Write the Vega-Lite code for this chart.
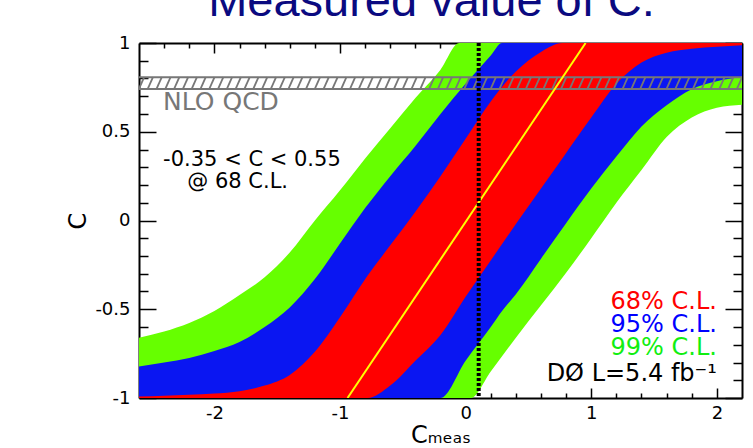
{
  "$schema": "https://vega.github.io/schema/vega-lite/v6.json",
  "width": 603,
  "height": 355,
  "autosize": {"type": "none"},
  "padding": {"left": 139, "top": 43, "right": 11, "bottom": 50},
  "background": "white",
  "title": {"text": "Measured value of C:", "font": "Liberation Sans", "fontSize": 47, "fontWeight": "normal", "color": "#0a0a80", "anchor": "middle", "frame": "group", "baseline": "alphabetic", "offset": -29, "dx": -9},
  "config": {
    "view": {"stroke": null},
    "axis": {"domain": false, "grid": false, "tickColor": "black", "tickWidth": 1.5, "labelFont": "DejaVu Sans", "labelFontSize": 18, "labelColor": "black", "titleFont": "DejaVu Sans", "titleFontWeight": "normal", "titleColor": "black", "labelOverlap": false, "labelFlush": false, "zindex": 1}
  },
  "datasets": {
    "green": [
      {"x": -2.6, "lo": -1, "hi": -0.66}, {"x": -2.4, "lo": -1, "hi": -0.625}, {"x": -2.2, "lo": -1, "hi": -0.577}, {"x": -2.0, "lo": -1, "hi": -0.51}, {"x": -1.8, "lo": -1, "hi": -0.42}, {"x": -1.6, "lo": -1, "hi": -0.32}, {"x": -1.4, "lo": -1, "hi": -0.18}, {"x": -1.2, "lo": -1, "hi": 0.0}, {"x": -1.0, "lo": -1, "hi": 0.17}, {"x": -0.8, "lo": -1, "hi": 0.35}, {"x": -0.6, "lo": -1, "hi": 0.52}, {"x": -0.4, "lo": -1, "hi": 0.69}, {"x": -0.2, "lo": -1, "hi": 0.85}, {"x": -0.05, "lo": -1, "hi": 1}, {"x": 0.04, "lo": -1, "hi": 1}, {"x": 0.2, "lo": -0.85, "hi": 1}, {"x": 0.4, "lo": -0.66, "hi": 1}, {"x": 0.6, "lo": -0.478, "hi": 1}, {"x": 0.8, "lo": -0.295, "hi": 1}, {"x": 1.0, "lo": -0.1, "hi": 1}, {"x": 1.2, "lo": 0.1, "hi": 1}, {"x": 1.4, "lo": 0.284, "hi": 1}, {"x": 1.6, "lo": 0.47, "hi": 1}, {"x": 1.8, "lo": 0.58, "hi": 1}, {"x": 2.0, "lo": 0.635, "hi": 1}, {"x": 2.2, "lo": 0.652, "hi": 1}
    ],
    "blue": [
      {"x": -2.6, "lo": -1, "hi": -0.823}, {"x": -2.4, "lo": -1, "hi": -0.8}, {"x": -2.2, "lo": -1, "hi": -0.775}, {"x": -2.0, "lo": -1, "hi": -0.735}, {"x": -1.8, "lo": -1, "hi": -0.685}, {"x": -1.6, "lo": -1, "hi": -0.6}, {"x": -1.4, "lo": -1, "hi": -0.49}, {"x": -1.2, "lo": -1, "hi": -0.33}, {"x": -1.0, "lo": -1, "hi": -0.13}, {"x": -0.8, "lo": -1, "hi": 0.07}, {"x": -0.6, "lo": -1, "hi": 0.25}, {"x": -0.4, "lo": -1, "hi": 0.42}, {"x": -0.2, "lo": -1, "hi": 0.6}, {"x": 0.0, "lo": -0.79, "hi": 0.77}, {"x": 0.2, "lo": -0.6, "hi": 0.93}, {"x": 0.29, "lo": -0.51, "hi": 1}, {"x": 0.4, "lo": -0.415, "hi": 1}, {"x": 0.6, "lo": -0.215, "hi": 1}, {"x": 0.8, "lo": -0.015, "hi": 1}, {"x": 1.0, "lo": 0.18, "hi": 1}, {"x": 1.2, "lo": 0.36, "hi": 1}, {"x": 1.4, "lo": 0.53, "hi": 1}, {"x": 1.6, "lo": 0.65, "hi": 1}, {"x": 1.8, "lo": 0.74, "hi": 1}, {"x": 2.0, "lo": 0.785, "hi": 1}, {"x": 2.2, "lo": 0.81, "hi": 1}
    ],
    "red": [
      {"x": -2.6, "lo": -1, "hi": -0.992}, {"x": -2.4, "lo": -1, "hi": -0.988}, {"x": -2.2, "lo": -1, "hi": -0.982}, {"x": -2.0, "lo": -1, "hi": -0.975}, {"x": -1.8, "lo": -1, "hi": -0.962}, {"x": -1.6, "lo": -1, "hi": -0.93}, {"x": -1.4, "lo": -1, "hi": -0.87}, {"x": -1.2, "lo": -1, "hi": -0.74}, {"x": -1.0, "lo": -1, "hi": -0.545}, {"x": -0.78, "lo": -1, "hi": -0.31}, {"x": -0.6, "lo": -0.93, "hi": -0.14}, {"x": -0.4, "lo": -0.79, "hi": 0.05}, {"x": -0.2, "lo": -0.645, "hi": 0.25}, {"x": 0.0, "lo": -0.43, "hi": 0.46}, {"x": 0.2, "lo": -0.225, "hi": 0.67}, {"x": 0.4, "lo": -0.02, "hi": 0.84}, {"x": 0.6, "lo": 0.18, "hi": 0.95}, {"x": 0.77, "lo": 0.35, "hi": 1}, {"x": 1.0, "lo": 0.58, "hi": 1}, {"x": 1.2, "lo": 0.77, "hi": 1}, {"x": 1.4, "lo": 0.89, "hi": 1}, {"x": 1.6, "lo": 0.945, "hi": 1}, {"x": 1.8, "lo": 0.968, "hi": 1}, {"x": 2.0, "lo": 0.979, "hi": 1}, {"x": 2.2, "lo": 0.987, "hi": 1}
    ],
    "yellow": [{"x": -0.94, "y": -1}, {"x": 0.955, "y": 1}],
    "nloEdges": [{"c": 0.741}, {"c": 0.807}],
    "hatches": [
      {"hx": -2.58}, {"hx": -2.51}, {"hx": -2.44}, {"hx": -2.37}, {"hx": -2.30}, {"hx": -2.23}, {"hx": -2.16}, {"hx": -2.09}, {"hx": -2.02}, {"hx": -1.95}, {"hx": -1.88}, {"hx": -1.81}, {"hx": -1.74}, {"hx": -1.67}, {"hx": -1.60}, {"hx": -1.53}, {"hx": -1.46}, {"hx": -1.39}, {"hx": -1.32}, {"hx": -1.25}, {"hx": -1.18}, {"hx": -1.11}, {"hx": -1.04}, {"hx": -0.97}, {"hx": -0.90}, {"hx": -0.83}, {"hx": -0.76}, {"hx": -0.69}, {"hx": -0.62}, {"hx": -0.55}, {"hx": -0.48}, {"hx": -0.41}, {"hx": -0.34}, {"hx": -0.27}, {"hx": -0.20}, {"hx": -0.13}, {"hx": -0.06}, {"hx": 0.01}, {"hx": 0.08}, {"hx": 0.15}, {"hx": 0.22}, {"hx": 0.29}, {"hx": 0.36}, {"hx": 0.43}, {"hx": 0.50}, {"hx": 0.57}, {"hx": 0.64}, {"hx": 0.71}, {"hx": 0.78}, {"hx": 0.85}, {"hx": 0.92}, {"hx": 0.99}, {"hx": 1.06}, {"hx": 1.13}, {"hx": 1.20}, {"hx": 1.27}, {"hx": 1.34}, {"hx": 1.41}, {"hx": 1.48}, {"hx": 1.55}, {"hx": 1.62}, {"hx": 1.69}, {"hx": 1.76}, {"hx": 1.83}, {"hx": 1.90}, {"hx": 1.97}, {"hx": 2.04}, {"hx": 2.11}, {"hx": 2.18}
    ]
  },
  "layer": [
    {
      "data": {"name": "green"},
      "mark": {"type": "area", "orient": "vertical", "color": "#66ff00", "interpolate": "monotone", "clip": true},
      "encoding": {
        "x": {"field": "x", "type": "quantitative", "scale": {"domain": [-2.6, 2.2], "nice": false, "zero": false},
          "axis": {"orient": "bottom", "values": [-2, -1, 0, 1, 2], "tickSize": -10, "labelPadding": 16, "labelExpr": "datum.value < 0 ? '-' + format(-datum.value, '~g') : format(datum.value, '~g')", "title": "Cₘₑₐₛ", "titleFontSize": 24, "titlePadding": 1, "domain": true, "domainColor": "black", "domainWidth": 2}},
        "y": {"field": "lo", "type": "quantitative", "scale": {"domain": [-1, 1], "nice": false, "zero": false},
          "axis": {"orient": "left", "values": [-1, -0.5, 0, 0.5, 1], "tickSize": -17, "labelPadding": 26, "labelExpr": "datum.value < 0 ? '-' + format(-datum.value, '~g') : format(datum.value, '~g')", "title": "C", "titleFontSize": 24, "titlePadding": 4, "domain": true, "domainColor": "black", "domainWidth": 2}},
        "y2": {"field": "hi"}
      }
    },
    {
      "data": {"name": "blue"},
      "mark": {"type": "area", "orient": "vertical", "color": "#0a16f2", "interpolate": "monotone", "clip": true},
      "encoding": {
        "x": {"field": "x", "type": "quantitative", "axis": {"orient": "bottom", "values": [-2.4, -2.2, -1.8, -1.6, -1.4, -1.2, -0.8, -0.6, -0.4, -0.2, 0.2, 0.4, 0.6, 0.8, 1.2, 1.4, 1.6, 1.8], "tickSize": -5, "labels": false, "title": null}},
        "y": {"field": "lo", "type": "quantitative", "axis": {"orient": "left", "values": [-0.9, -0.8, -0.7, -0.6, -0.4, -0.3, -0.2, -0.1, 0.1, 0.2, 0.3, 0.4, 0.6, 0.7, 0.8, 0.9], "tickSize": -9, "labels": false, "title": null}},
        "y2": {"field": "hi"}
      }
    },
    {
      "data": {"name": "red"},
      "mark": {"type": "area", "orient": "vertical", "color": "#ff0000", "interpolate": "monotone", "clip": true},
      "encoding": {
        "x": {"field": "x", "type": "quantitative", "axis": {"orient": "top", "values": [-2, -1, 0, 1, 2], "tickSize": -10, "labels": false, "title": null, "domain": true, "domainColor": "black", "domainWidth": 2}},
        "y": {"field": "lo", "type": "quantitative", "axis": {"orient": "right", "values": [-1, -0.5, 0, 0.5, 1], "tickSize": -17, "labels": false, "title": null, "domain": true, "domainColor": "black", "domainWidth": 2}},
        "y2": {"field": "hi"}
      }
    },
    {
      "data": {"name": "nloEdges"},
      "mark": {"type": "rule", "color": "#777777", "strokeWidth": 2},
      "encoding": {
        "y": {"field": "c", "type": "quantitative", "axis": null}
      }
    },
    {
      "data": {"name": "hatches"},
      "mark": {"type": "point", "shape": "M-0.45,1L0.45,-1", "filled": false, "stroke": "#777777", "strokeWidth": 1.8, "size": 140, "opacity": 1, "clip": true},
      "encoding": {
        "x": {"field": "hx", "type": "quantitative", "axis": null},
        "y": {"datum": 0.774, "type": "quantitative", "axis": null}
      }
    },
    {
      "data": {"name": "yellow"},
      "mark": {"type": "line", "color": "#ffff00", "strokeWidth": 2, "clip": true},
      "encoding": {
        "x": {"field": "x", "type": "quantitative", "axis": {"orient": "top", "values": [-2.4, -2.2, -1.8, -1.6, -1.4, -1.2, -0.8, -0.6, -0.4, -0.2, 0.2, 0.4, 0.6, 0.8, 1.2, 1.4, 1.6, 1.8], "tickSize": -5, "labels": false, "title": null}},
        "y": {"field": "y", "type": "quantitative", "axis": {"orient": "right", "values": [-0.9, -0.8, -0.7, -0.6, -0.4, -0.3, -0.2, -0.1, 0.1, 0.2, 0.3, 0.4, 0.6, 0.7, 0.8, 0.9], "tickSize": -9, "labels": false, "title": null}}
      }
    },
    {
      "data": {"values": [{}]},
      "mark": {"type": "rule", "color": "black", "strokeWidth": 4, "strokeDash": [3, 2]},
      "encoding": {
        "x": {"datum": 0.104, "type": "quantitative", "axis": null}
      }
    },
    {
      "data": {"values": [{}]},
      "mark": {"type": "text", "text": "NLO QCD", "align": "left", "baseline": "alphabetic", "font": "DejaVu Sans", "fontSize": 25, "color": "#777777"},
      "encoding": {"x": {"datum": -2.408, "type": "quantitative", "axis": null}, "y": {"datum": 0.624, "type": "quantitative", "axis": null}}
    },
    {
      "data": {"values": [{}]},
      "mark": {"type": "text", "text": "-0.35 < C < 0.55", "align": "left", "baseline": "alphabetic", "font": "DejaVu Sans", "fontSize": 21, "color": "black"},
      "encoding": {"x": {"datum": -2.408, "type": "quantitative", "axis": null}, "y": {"datum": 0.305, "type": "quantitative", "axis": null}}
    },
    {
      "data": {"values": [{}]},
      "mark": {"type": "text", "text": "@ 68 C.L.", "align": "left", "baseline": "alphabetic", "font": "DejaVu Sans", "fontSize": 21, "color": "black"},
      "encoding": {"x": {"datum": -2.216, "type": "quantitative", "axis": null}, "y": {"datum": 0.183, "type": "quantitative", "axis": null}}
    },
    {
      "data": {"values": [{}]},
      "mark": {"type": "text", "text": "68% C.L.", "align": "right", "baseline": "alphabetic", "font": "DejaVu Sans", "fontSize": 24, "color": "#ff0000"},
      "encoding": {"x": {"datum": 2.0, "type": "quantitative", "axis": null}, "y": {"datum": -0.499, "type": "quantitative", "axis": null}}
    },
    {
      "data": {"values": [{}]},
      "mark": {"type": "text", "text": "95% C.L.", "align": "right", "baseline": "alphabetic", "font": "DejaVu Sans", "fontSize": 24, "color": "#0000ff"},
      "encoding": {"x": {"datum": 2.0, "type": "quantitative", "axis": null}, "y": {"datum": -0.628, "type": "quantitative", "axis": null}}
    },
    {
      "data": {"values": [{}]},
      "mark": {"type": "text", "text": "99% C.L.", "align": "right", "baseline": "alphabetic", "font": "DejaVu Sans", "fontSize": 24, "color": "#11ee11"},
      "encoding": {"x": {"datum": 2.0, "type": "quantitative", "axis": null}, "y": {"datum": -0.758, "type": "quantitative", "axis": null}}
    },
    {
      "data": {"values": [{}]},
      "mark": {"type": "text", "text": "DØ L=5.4 fb⁻¹", "align": "right", "baseline": "alphabetic", "font": "DejaVu Sans", "fontSize": 24, "color": "black"},
      "encoding": {"x": {"datum": 2.0, "type": "quantitative", "axis": null}, "y": {"datum": -0.904, "type": "quantitative", "axis": null}}
    }
  ],
  "resolve": {"axis": {"x": "independent", "y": "independent"}}
}
